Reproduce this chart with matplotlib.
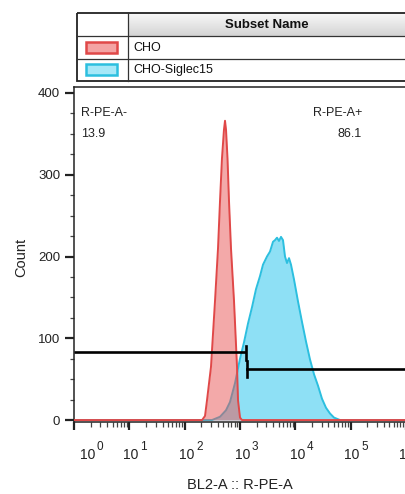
import numpy as np
import matplotlib.pyplot as plt
from matplotlib.patches import Rectangle
from matplotlib.ticker import LogLocator, NullFormatter

plt.rcParams['font.family'] = ['Liberation Sans', 'DejaVu Sans']

# subset names and colours
subsets = ['CHO', 'CHO-Siglec15']

# CHO histogram (BL2-A intensity, count)
cho_x = [1, 207, 234, 254, 300, 355, 402, 437, 474, 515, 538, 561, 597, 635,
         690, 782, 887, 925, 1005, 1091, 3e6]
cho_count = [0, 0, 5, 24, 65, 146, 210, 268, 320, 355, 366, 355, 320, 268,
             210, 146, 65, 24, 3, 0, 0]

# CHO-Siglec15 histogram
sig_x = [1, 313, 437, 561, 662, 815, 1004, 1186, 1401, 1656, 1955, 2309, 2616,
         3090, 3501, 3970, 4313, 4689, 5095, 5537, 6017, 6540, 7110, 7727,
         8395, 9510, 11240, 13270, 15680, 18530, 21880, 25840, 30530, 36060,
         42590, 50330, 64570, 3e6]
sig_count = [0, 0, 4, 12, 22, 45, 75, 95, 118, 138, 160, 176, 190, 200, 206,
             218, 220, 223, 219, 224, 220, 200, 192, 198, 190, 172, 145, 120,
             96, 74, 56, 42, 26, 15, 8, 3, 0, 0]

# gates
gate_split = 1290
gate_neg_y = 83
gate_pos_y = 63
gate_labels = ['R-PE-A-', 'R-PE-A+']
gate_pcts = ['13.9', '86.1']

xtick_vals = [1e0, 1e1, 1e2, 1e3, 1e4, 1e5, 1e6]
xtick_exps = ['0', '1', '2', '3', '4', '5', '6']
ytick_vals = [0, 100, 200, 300, 400]

W, H = 405, 494
fig = plt.figure(figsize=(W / 100, H / 100), dpi=100)


def px_rect(x0, y0, x1, y1):
    return [x0 / W, 1 - y1 / H, (x1 - x0) / W, (y1 - y0) / H]


ax = fig.add_axes(px_rect(74, 87, 430, 422))

red_fill = '#e85555'
red_line = '#e04848'
cyan_fill = '#8ee0f5'
cyan_line = '#2cbfdf'

ax.fill_between(sig_x, sig_count, 0, color=cyan_fill, lw=0, zorder=1)
ax.plot(sig_x, sig_count, color=cyan_line, lw=1.4, zorder=2)
ax.fill_between(cho_x, cho_count, 0, color=red_fill, alpha=0.5, lw=0, zorder=3)
ax.plot(cho_x, cho_count, color=red_line, lw=1.4, zorder=4)

ax.set_xscale('log')
ax.set_xlim(1, 10 ** (356 / 55.3))
ax.set_ylim(-2.4, 407.3)

# gates
xmin, xmax = ax.get_xlim()
ax.plot([xmin, gate_split], [gate_neg_y, gate_neg_y], color='black', lw=1.9,
        zorder=6, solid_capstyle='butt')
ax.plot([gate_split, gate_split], [gate_neg_y - 9, gate_neg_y + 8],
        color='black', lw=1.9, zorder=6)
ax.plot([gate_split * 1.03, xmax], [gate_pos_y, gate_pos_y], color='black',
        lw=1.9, zorder=6)
ax.plot([gate_split * 1.03, gate_split * 1.03], [gate_pos_y - 10, gate_pos_y + 9],
        color='black', lw=1.9, zorder=6)

ax.text(0.02, 0.922, gate_labels[0], transform=ax.transAxes, fontsize=9,
        ha='left', va='center', color='#222222')
ax.text(0.02, 0.860, gate_pcts[0], transform=ax.transAxes, fontsize=9,
        ha='left', va='center', color='#222222')
ax.text(0.809, 0.922, gate_labels[1], transform=ax.transAxes, fontsize=9,
        ha='right', va='center', color='#222222')
ax.text(0.809, 0.860, gate_pcts[1], transform=ax.transAxes, fontsize=9,
        ha='right', va='center', color='#222222')

# axes styling
for side in ['left', 'top', 'bottom']:
    ax.spines[side].set_linewidth(1.1)
    ax.spines[side].set_color('#222222')
ax.spines['right'].set_visible(False)

ax.set_yticks(ytick_vals)
ax.set_yticks([25, 50, 75, 125, 150, 175, 225, 250, 275, 325, 350, 375], minor=True)
ax.tick_params(axis='y', which='major', length=6.5, width=1.6, pad=3.5,
               labelsize=9.5, colors='#222222')
ax.tick_params(axis='y', which='minor', length=3, width=0.9, color='#444444')

ax.set_xticks(xtick_vals)
ax.xaxis.set_minor_locator(LogLocator(base=10, subs=np.arange(2, 10), numticks=20))
ax.xaxis.set_minor_formatter(NullFormatter())
ax.set_xticklabels([''] * len(xtick_vals))
ax.tick_params(axis='x', which='major', length=5.5, width=1.6, color='#222222')
ax.tick_params(axis='x', which='minor', length=3.5, width=0.9, color='#444444')

# x tick labels: "10" with a large raised exponent, shifted right as in FlowJo
shifts = [21, 9, 10, 10, 10, 9, 9]
for v, e, sh in zip(xtick_vals, xtick_exps, shifts):
    ax.annotate('10', xy=(v, 0), xycoords=('data', 'axes fraction'),
                xytext=(sh * 0.72, -33 * 0.72), textcoords='offset points',
                ha='right', va='center', fontsize=10, color='#222222',
                annotation_clip=False)
    ax.annotate(e, xy=(v, 0), xycoords=('data', 'axes fraction'),
                xytext=((sh + 1.5) * 0.72, -25.5 * 0.72), textcoords='offset points',
                ha='left', va='center', fontsize=8.5, color='#222222',
                annotation_clip=False)

fig.text(21 / W, 1 - 257 / H, 'Count', rotation=90, ha='center', va='center',
         fontsize=10.5, color='#222222')
fig.text(240 / W, 1 - 485 / H, 'BL2-A :: R-PE-A', ha='center', va='center',
         fontsize=10.5, color='#222222')

# subset legend table drawn in pixel coordinates
tab = fig.add_axes([0, 0, 1, 1], zorder=5)
tab.patch.set_visible(False)
tab.axis('off')
grad = np.linspace(0.97, 0.83, 30)[:, None]
tab.imshow(grad, extent=(128, 412, 36, 13), cmap='gray', vmin=0, vmax=1,
           aspect='auto', interpolation='bilinear')
tab.set_xlim(0, W)
tab.set_ylim(H, 0)

row_edges = [13, 36, 59, 81]
for y in row_edges[1:-1]:
    tab.plot([77, 412], [y, y], color='#333333', lw=0.9)
tab.plot([128, 128], [13, 81], color='#333333', lw=0.9)
tab.add_patch(Rectangle((77, 13), 340, 68, fill=False, ec='#222222', lw=1.3))

tab.text(267, 25.5, 'Subset Name', fontsize=9.5, fontweight='bold',
         ha='center', va='center', color='#111111')
swatches = [(red_line, '#f4a3a3'), (cyan_line, '#a6e8f8')]
for i, (name, (ec, fc)) in enumerate(zip(subsets, swatches)):
    yc = (row_edges[i + 1] + row_edges[i + 2]) / 2
    tab.add_patch(Rectangle((86, yc - 5.5), 31, 11, fc=fc, ec=ec, lw=1.8))
    tab.text(133, yc + 0.5, name, fontsize=9, ha='left', va='center',
             color='#111111')

fig.savefig('out.png', dpi=100)
